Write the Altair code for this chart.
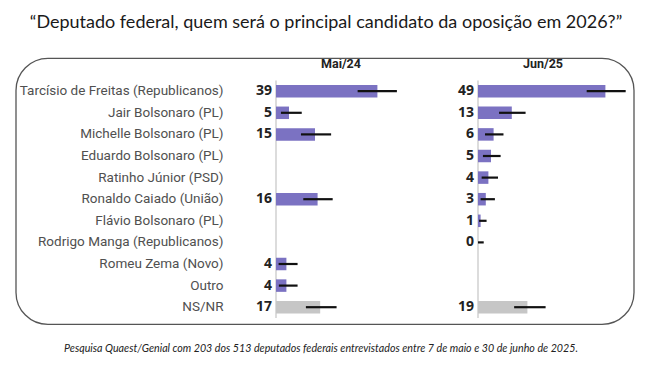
import altair as alt
import pandas as pd

title_text = "\u201cDeputado federal, quem ser\u00e1 o principal candidato da oposi\u00e7\u00e3o em 2026?\u201d"
note_text = ("Pesquisa Quaest/Genial com 203 dos 513 deputados federais entrevistados "
             "entre 7 de maio e 30 de junho de 2025.")

cats = [
    "Tarc\u00edsio de Freitas (Republicanos)",
    "Jair Bolsonaro (PL)",
    "Michelle Bolsonaro (PL)",
    "Eduardo Bolsonaro (PL)",
    "Ratinho J\u00fanior (PSD)",
    "Ronaldo Caiado (Uni\u00e3o)",
    "Fl\u00e1vio Bolsonaro (PL)",
    "Rodrigo Manga (Republicanos)",
    "Romeu Zema (Novo)",
    "Outro",
    "NS/NR",
]
periods = ["Mai/24", "Jun/25"]

mai_vals = [39, 5, 15, None, None, 16, None, None, 4, 4, 17]
mai_lo = [31.4, 1.9, 9.6, None, None, 10.5, None, None, 1.0, 1.1, 11.5]
mai_hi = [46.5, 9.9, 21.2, None, None, 21.8, None, None, 8.3, 8.3, 23.3]

jun_vals = [49, 13, 6, 5, 4, 3, 1, 0, None, None, 19]
jun_lo = [41.8, 8.1, 2.7, 1.9, 1.4, 1.0, 0.4, 0.0, None, None, 13.9]
jun_hi = [56.8, 18.3, 9.8, 8.7, 7.7, 6.5, 3.3, 2.2, None, None, 26.0]

rows = []
for period, vals, los, his in [("Mai/24", mai_vals, mai_lo, mai_hi),
                               ("Jun/25", jun_vals, jun_lo, jun_hi)]:
    for c, v, lo, hi in zip(cats, vals, los, his):
        rows.append({"period": period, "cand": c, "value": v, "lo": lo, "hi": hi,
                     "group": "ns" if c == "NS/NR" else "cand"})
df = pd.DataFrame(rows)

STEP = 21.6
W = 130
H = STEP * len(cats)
first_row = "datum.cand == '" + cats[0] + "'"


def panel(period, with_axis, extras):
    base = alt.Chart(df).transform_filter(alt.datum.period == period)
    if with_axis:
        axis = alt.Axis(labelFont="Roboto", labelFontSize=13.5, labelColor="#505050",
                        labelPadding=53, labelLimit=400, ticks=False, domain=False,
                        grid=False)
    else:
        axis = None
    y_enc = alt.Y("cand:N", sort=cats, title=None,
                  scale=alt.Scale(domain=cats, paddingInner=0, paddingOuter=0),
                  axis=axis)
    xs = alt.Scale(domain=[0, 50])

    zero = base.transform_filter(first_row).mark_rule(color="#dcdcdc", strokeWidth=2).encode(
        x=alt.X("zero:Q", scale=xs, axis=None),
    ).transform_calculate(zero="0")

    bars = base.transform_filter("isValid(datum.value) && datum.value > 0").mark_bar(size=12.5).encode(
        x=alt.X("value:Q", scale=xs, axis=None),
        y=y_enc,
        color=alt.Color("group:N", scale=alt.Scale(domain=["cand", "ns"],
                                                   range=["#7b72c2", "#c6c6c6"]), legend=None),
    )

    errs = base.transform_filter("isValid(datum.lo)").mark_rule(
        color="#111111", strokeWidth=2.2
    ).encode(x="lo:Q", x2="hi:Q", y=y_enc)

    labels = base.transform_filter("isValid(datum.value)").mark_text(
        align="right", baseline="middle", dx=-4, font="Open Sans", fontWeight="bold",
        fontSize=14, color="#222222"
    ).encode(x=alt.datum(0), y=y_enc, text="value:Q")

    header = base.transform_filter(first_row).mark_text(
        font="Roboto", fontWeight="bold", fontSize=12.5, color="#222222",
        align="center", baseline="middle", dy=-16
    ).encode(x=alt.datum(25), y=alt.value(0), text="period:N")

    layers = [zero, bars, errs, labels, header]
    if extras:
        box = base.transform_filter(first_row).mark_rect(
            cornerRadius=32, fill="white", fillOpacity=0, stroke="#555555", strokeWidth=1.3
        ).encode(x=alt.value(-260), x2=alt.value(358), y=alt.value(-22), y2=alt.value(244))
        title = base.transform_filter(first_row).mark_text(
            text=title_text, font="Lato", fontSize=18, color="#1a1a1a", align="center",
            baseline="middle"
        ).encode(x=alt.value(50), y=alt.value(-57))
        note = base.transform_filter(first_row).mark_text(
            text=note_text, font="Lato", fontStyle="italic", fontSize=10.7, color="#222222",
            align="center", baseline="middle"
        ).encode(x=alt.value(45), y=alt.value(269))
        layers += [box, title, note]
    return alt.layer(*layers).properties(width=W, height=H)


left = panel("Mai/24", True, True)
right = panel("Jun/25", False, False)

chart = alt.hconcat(left, right, spacing=72, bounds="flush").properties(
    padding={"left": 7, "top": 6.4, "right": 5, "bottom": 5}
).configure_view(stroke=None)

chart.save("out.html", embed_options={"renderer": "svg", "actions": False})
